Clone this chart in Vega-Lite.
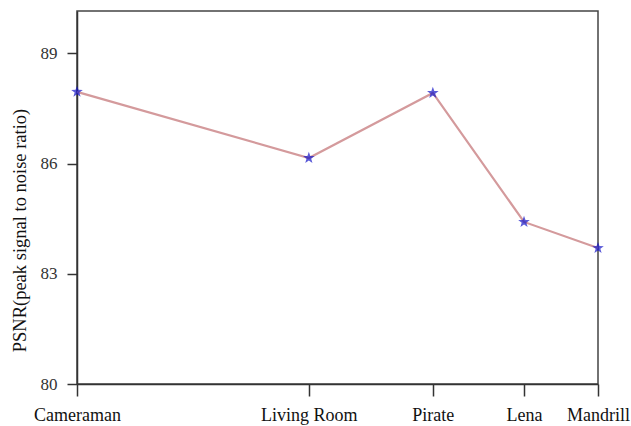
{
  "$schema": "https://vega.github.io/schema/vega-lite/v6.json",
  "width": 521,
  "height": 373,
  "autosize": {"type": "none"},
  "padding": {"left": 77, "top": 11, "right": 33, "bottom": 42},
  "background": "white",
  "config": {
    "view": {"stroke": "#444", "strokeWidth": 1.5}
  },
  "data": {
    "values": [
      {"image": "Cameraman", "x": 0, "psnr": 87.95},
      {"image": "Living Room", "x": 44.5, "psnr": 86.15},
      {"image": "Pirate", "x": 68.3, "psnr": 87.92},
      {"image": "Lena", "x": 85.8, "psnr": 84.41},
      {"image": "Mandrill", "x": 100, "psnr": 83.7}
    ]
  },
  "layer": [
    {
      "mark": {"type": "line", "color": "#d49a9c", "strokeWidth": 2.2},
      "encoding": {
        "x": {
          "field": "x",
          "type": "quantitative",
          "scale": {"domain": [0, 100], "nice": false, "zero": false},
          "axis": {
            "title": null,
            "orient": "bottom",
            "values": [0, 44.5, 68.3, 85.8, 100],
            "labelExpr": "datum.value == 0 ? 'Cameraman' : datum.value == 44.5 ? 'Living Room' : datum.value == 68.3 ? 'Pirate' : datum.value == 85.8 ? 'Lena' : 'Mandrill'",
            "grid": false,
            "domainColor": "#333",
            "domainWidth": 1.5,
            "tickColor": "#333",
            "tickWidth": 1.5,
            "tickSize": 12,
            "labelPadding": 10,
            "labelFontSize": 18,
            "labelColor": "#111",
            "labelFont": "Liberation Serif",
            "labelOverlap": false,
            "labelFlush": false
          }
        },
        "y": {
          "field": "psnr",
          "type": "quantitative",
          "scale": {"domain": [80, 90.15], "nice": false, "zero": false},
          "axis": {
            "title": "PSNR(peak signal to noise ratio)",
            "orient": "left",
            "values": [80, 83, 86, 89],
            "grid": false,
            "domainColor": "#333",
            "domainWidth": 1.5,
            "tickColor": "#333",
            "tickWidth": 1.5,
            "tickSize": 10,
            "labelPadding": 10,
            "labelFontSize": 17,
            "labelColor": "#333",
            "labelFont": "Liberation Serif",
            "titleFont": "Liberation Serif",
            "titleFontSize": 18.5,
            "titleFontWeight": "normal",
            "titleColor": "#111",
            "titlePadding": 11,
            "titleY": 219
          }
        }
      }
    },
    {
      "mark": {"type": "point", "shape": "M0,-1L0.24,-0.33L0.95,-0.31L0.38,0.12L0.59,0.81L0,0.4L-0.59,0.81L-0.38,0.12L-0.95,-0.31L-0.24,-0.33Z", "filled": true, "color": "#1414c8", "size": 150},
      "encoding": {
        "x": {"field": "x", "type": "quantitative"},
        "y": {"field": "psnr", "type": "quantitative"}
      }
    }
  ]
}
